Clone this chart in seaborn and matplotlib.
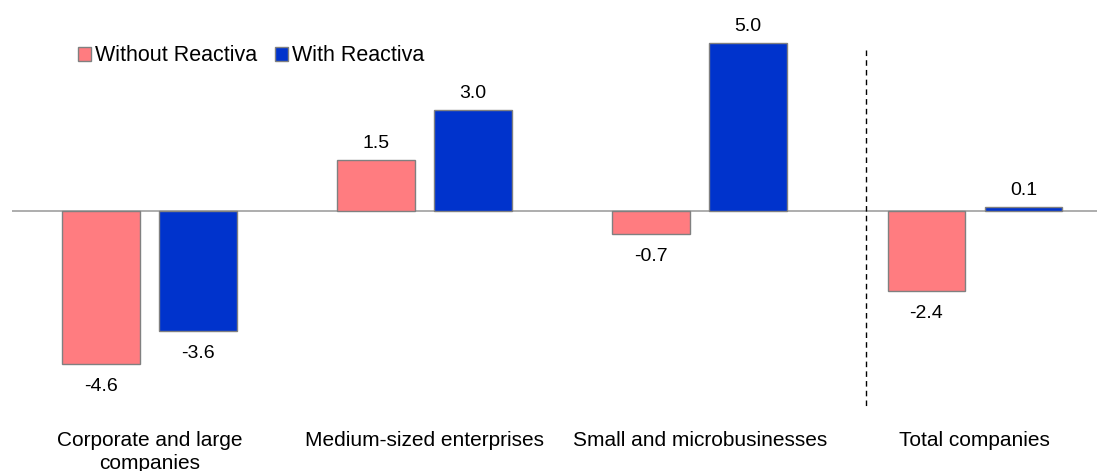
import seaborn as sns
import matplotlib.pyplot as plt
import pandas as pd

categories = ['Corporate and large\ncompanies', 'Medium-sized enterprises',
              'Small and microbusinesses', 'Total companies']
without_reactiva = [-4.6, 1.5, -0.7, -2.4]
with_reactiva = [-3.6, 3.0, 5.0, 0.1]
series = ['Without Reactiva', 'With Reactiva']
colors = ['#FF7C80', '#0033CC']

df = pd.DataFrame({
    'category': categories * 2,
    'value': without_reactiva + with_reactiva,
    'series': [series[0]] * 4 + [series[1]] * 4,
})

sns.set_style('white')
plt.rcParams['font.family'] = ['Liberation Sans', 'DejaVu Sans']
plt.rcParams['text.color'] = 'black'
plt.rcParams['xtick.color'] = 'black'

fig = plt.figure(figsize=(10.97, 4.71), dpi=100)
ax = fig.add_axes([12 / 1097, 0.106, 1 - 12 / 1097, 0.894])

sns.barplot(data=df, x='category', y='value', hue='series', order=categories,
            hue_order=series, palette=colors, saturation=1, width=0.705, gap=0.2,
            edgecolor='#808080', linewidth=1, ax=ax, legend=True)

for cont in ax.containers:
    for bar in cont:
        h = bar.get_height()
        x = bar.get_x() + bar.get_width() / 2
        if h >= 0:
            ax.text(x, h + 0.25, f'{h:.1f}', ha='center', va='bottom', fontsize=14)
        else:
            ax.text(x, h - 0.42, f'{h:.1f}', ha='center', va='top', fontsize=14)

ax.axhline(0, color='#A0A0A0', lw=1.2, zorder=0)
ax.plot([2.604, 2.604], [4.8, -5.95], color='black', lw=1, ls=(0, (4, 3)))

ax.set_xlim(-0.5, 3.444)
ax.set_ylim(-6.3, 6.3)
ax.set_xlabel('')
ax.set_ylabel('')
ax.set_yticks([])
ax.tick_params(axis='x', length=0, labelsize=15, pad=7)
for lbl in ax.get_xticklabels():
    lbl.set_linespacing(1.25)
for s in ax.spines.values():
    s.set_visible(False)

leg = ax.legend(loc='upper left', bbox_to_anchor=(0.043, 0.938), ncol=2, frameon=False,
                fontsize=15.5, handlelength=0.6, handleheight=0.6, handletextpad=0.2,
                columnspacing=0.8)
for p in leg.get_patches():
    p.set_edgecolor('#808080')

fig.savefig('out.png', dpi=100)
